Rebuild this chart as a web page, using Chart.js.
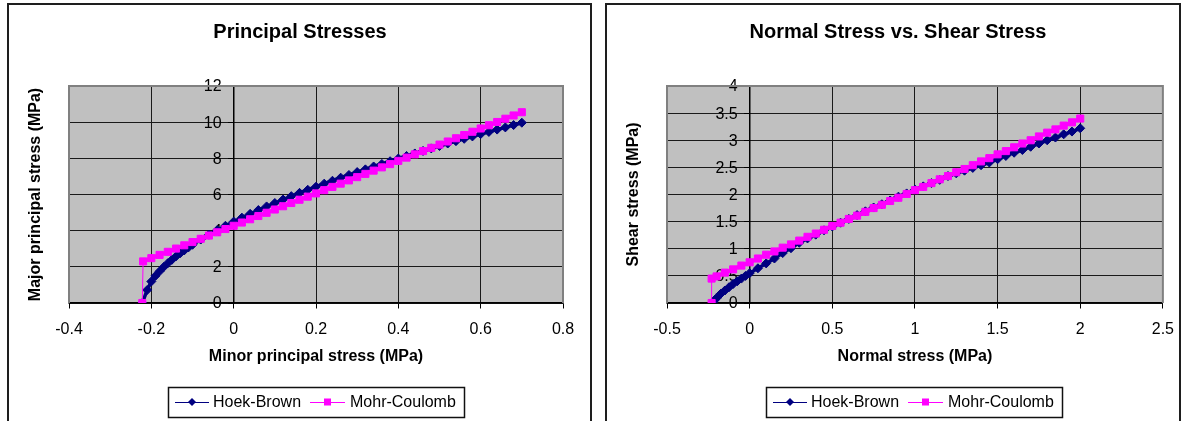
<!DOCTYPE html>
<html>
<head>
<meta charset="utf-8">
<script src="https://cdn.jsdelivr.net/npm/chart.js@4.4.1/dist/chart.umd.min.js"></script>
<style>
  html, body { margin: 0; padding: 0; background: #fff; width: 1186px; height: 421px; overflow: hidden; }
  .frame { position: absolute; top: 3px; height: 440px; border: 2px solid #1e1e1e; box-sizing: border-box; }
  .wrap { position: absolute; top: 0; height: 421px; }
</style>
</head>
<body>
<div class="frame" style="left:7px; width:585px;"></div>
<div class="frame" style="left:605px; width:576px;"></div>
<div class="wrap" style="left:0; width:598px;"><canvas id="principal" width="598" height="421"></canvas></div>
<div class="wrap" style="left:598px; width:588px;"><canvas id="mohr" width="588" height="421"></canvas></div>

<script>
// Principal stresses (MPa)
const hbMinor = [-0.222, -0.21, -0.20, -0.19, -0.18, -0.17, -0.16, -0.15, -0.14, -0.13, -0.12, -0.11, -0.10,
  -0.08, -0.06, -0.04, -0.02, 0, 0.02, 0.04, 0.06, 0.08, 0.10, 0.12, 0.14, 0.16, 0.18, 0.20, 0.22, 0.24,
  0.26, 0.28, 0.30, 0.32, 0.34, 0.36, 0.38, 0.40, 0.42, 0.44, 0.46, 0.48, 0.50, 0.52, 0.54, 0.56, 0.58,
  0.60, 0.62, 0.64, 0.66, 0.68, 0.70];
const hbMajor = [0, 0.72, 1.19, 1.50, 1.75, 1.99, 2.20, 2.39, 2.58, 2.75, 2.91, 3.07, 3.22,
  3.51, 3.78, 4.03, 4.27, 4.50, 4.72, 4.93, 5.14, 5.34, 5.53, 5.72, 5.91, 6.09, 6.26, 6.43, 6.60, 6.76,
  6.93, 7.08, 7.24, 7.39, 7.55, 7.69, 7.84, 7.99, 8.13, 8.27, 8.41, 8.55, 8.68, 8.82, 8.95, 9.08, 9.21,
  9.34, 9.46, 9.59, 9.71, 9.84, 9.97];
const mcMinor = [-0.222, -0.22, -0.20, -0.18, -0.16, -0.14, -0.12, -0.10, -0.08, -0.06, -0.04, -0.02, 0,
  0.02, 0.04, 0.06, 0.08, 0.10, 0.12, 0.14, 0.16, 0.18, 0.20, 0.22, 0.24, 0.26, 0.28, 0.30, 0.32, 0.34,
  0.36, 0.38, 0.40, 0.42, 0.44, 0.46, 0.48, 0.50, 0.52, 0.54, 0.56, 0.58, 0.60, 0.62, 0.64, 0.66, 0.68, 0.70];
const mcMajor = [0, 2.30, 2.48, 2.66, 2.83, 3.01, 3.19, 3.37, 3.55, 3.73, 3.91, 4.09, 4.27,
  4.45, 4.63, 4.81, 4.99, 5.17, 5.35, 5.53, 5.71, 5.88, 6.06, 6.24, 6.42, 6.60, 6.78, 6.96, 7.14, 7.32,
  7.50, 7.68, 7.86, 8.04, 8.22, 8.40, 8.58, 8.76, 8.93, 9.11, 9.29, 9.47, 9.65, 9.83, 10.01, 10.19, 10.37, 10.55];

// Normal vs shear stress (MPa)
const hbNormal = [-0.222, -0.21, -0.20, -0.175, -0.15, -0.125, -0.10, -0.075, -0.05, -0.025, 0,
  0.05, 0.10, 0.15, 0.20, 0.25, 0.30, 0.35, 0.40, 0.45, 0.50, 0.55, 0.60, 0.65, 0.70, 0.75, 0.80,
  0.85, 0.90, 0.95, 1.00, 1.05, 1.10, 1.15, 1.20, 1.25, 1.30, 1.35, 1.40, 1.45, 1.50, 1.55, 1.60,
  1.65, 1.70, 1.75, 1.80, 1.85, 1.90, 1.95, 2.00];
const hbShear = [0, 0.06, 0.09, 0.17, 0.23, 0.29, 0.35, 0.40, 0.45, 0.50, 0.55,
  0.64, 0.73, 0.82, 0.92, 1.01, 1.11, 1.19, 1.26, 1.34, 1.41, 1.48, 1.55, 1.62, 1.69, 1.76, 1.82,
  1.89, 1.96, 2.02, 2.09, 2.15, 2.21, 2.27, 2.34, 2.39, 2.44, 2.49, 2.54, 2.59, 2.65, 2.71, 2.77,
  2.82, 2.88, 2.94, 3.00, 3.05, 3.11, 3.16, 3.22];
const mcNormal = [-0.23, -0.23, -0.20, -0.15, -0.10, -0.05, 0,
  0.05, 0.10, 0.15, 0.20, 0.25, 0.30, 0.35, 0.40, 0.45, 0.50, 0.55, 0.60, 0.65, 0.70, 0.75, 0.80,
  0.85, 0.90, 0.95, 1.00, 1.05, 1.10, 1.15, 1.20, 1.25, 1.30, 1.35, 1.40, 1.45, 1.50, 1.55, 1.60,
  1.65, 1.70, 1.75, 1.80, 1.85, 1.90, 1.95, 2.00];
const mcShear = [0, 0.45, 0.49, 0.56, 0.62, 0.69, 0.75,
  0.82, 0.89, 0.95, 1.02, 1.08, 1.15, 1.22, 1.28, 1.35, 1.42, 1.48, 1.55, 1.61, 1.68, 1.75, 1.81,
  1.88, 1.94, 2.01, 2.08, 2.14, 2.21, 2.28, 2.34, 2.41, 2.47, 2.54, 2.61, 2.67, 2.74, 2.80, 2.87,
  2.94, 3.00, 3.07, 3.14, 3.20, 3.27, 3.33, 3.40];

const seriesNames = ["Hoek-Brown", "Mohr-Coulomb"];
const FONT = '"Liberation Sans", Arial, sans-serif';
const NAVY = "#000080";
const MAGENTA = "#FF00FF";

Chart.defaults.font.family = FONT;
Chart.defaults.color = "#000";

function pts(xs, ys) {
  return xs.map((x, i) => ({ x: x, y: ys[i] }));
}

function fmt(v) {
  return String(Math.round(v * 100) / 100);
}

// Excel-like frame: grey plot background, title, axis titles and boxed legend
const excelLook = {
  id: "excelLook",
  beforeDraw(chart) {
    const { ctx, chartArea: a } = chart;
    ctx.save();
    ctx.fillStyle = "#C0C0C0";
    ctx.fillRect(a.left, a.top, a.right - a.left, a.bottom - a.top);
    ctx.restore();
  },
  beforeDatasetsDraw(chart) {
    // y tick labels sit just left of the axis at x = 0 (under the data)
    const { ctx } = chart;
    const ys = chart.scales.y;
    const axisX = chart.scales.x.getPixelForValue(0);
    ctx.save();
    ctx.fillStyle = "#000";
    ctx.font = "16px " + FONT;
    ctx.textAlign = "right";
    ctx.textBaseline = "middle";
    ys.ticks.forEach((t, i) => {
      ctx.fillText(fmt(t.value), axisX - 12, ys.getPixelForTick(i) + 1);
    });
    ctx.restore();
  },
  afterDraw(chart) {
    const { ctx, chartArea: a } = chart;
    const o = chart.options.plugins.excelLook;
    ctx.save();
    // grey plot border (top, left, right)
    ctx.strokeStyle = "#808080";
    ctx.lineWidth = 2;
    ctx.beginPath();
    ctx.moveTo(a.left, a.bottom);
    ctx.lineTo(a.left, a.top);
    ctx.lineTo(a.right, a.top);
    ctx.lineTo(a.right, a.bottom);
    ctx.stroke();

    ctx.fillStyle = "#000";
    ctx.textAlign = "center";
    ctx.textBaseline = "middle";
    ctx.font = "bold 20px " + FONT;
    ctx.fillText(o.title, 300, 32);

    ctx.font = "bold 16px " + FONT;
    ctx.fillText(o.xTitle, (a.left + a.right) / 2, 357);
    ctx.save();
    ctx.translate(36, (a.top + a.bottom) / 2);
    ctx.rotate(-Math.PI / 2);
    ctx.fillText(o.yTitle, 0, 0);
    ctx.restore();

    // legend
    const lx = 168, ly = 387, lw = 296, lh = 30, cy = ly + lh / 2;
    ctx.strokeStyle = "#111";
    ctx.lineWidth = 1.5;
    ctx.strokeRect(lx + 0.5, ly + 0.5, lw, lh);
    ctx.lineWidth = 1;
    ctx.strokeStyle = NAVY;
    ctx.beginPath();
    ctx.moveTo(lx + 7, cy + 0.5);
    ctx.lineTo(lx + 41, cy + 0.5);
    ctx.stroke();
    ctx.fillStyle = NAVY;
    ctx.beginPath();
    ctx.moveTo(lx + 24, cy - 4);
    ctx.lineTo(lx + 28, cy);
    ctx.lineTo(lx + 24, cy + 4);
    ctx.lineTo(lx + 20, cy);
    ctx.closePath();
    ctx.fill();
    ctx.strokeStyle = MAGENTA;
    ctx.beginPath();
    ctx.moveTo(lx + 142, cy + 0.5);
    ctx.lineTo(lx + 177, cy + 0.5);
    ctx.stroke();
    ctx.fillStyle = MAGENTA;
    ctx.fillRect(lx + 156, cy - 3.5, 7, 7);

    ctx.fillStyle = "#000";
    ctx.textAlign = "left";
    ctx.font = "16px " + FONT;
    ctx.fillText(seriesNames[0], lx + 45, cy + 1);
    ctx.fillText(seriesNames[1], lx + 182, cy + 1);
    ctx.restore();
  }
};

function makeChart(canvasId, hb, mc, xr, yr, titles, pad) {
  const ctx = document.getElementById(canvasId).getContext("2d");
  return new Chart(ctx, {
    type: "scatter",
    data: {
      datasets: [
        {
          label: seriesNames[0],
          data: hb,
          showLine: true,
          borderColor: NAVY,
          backgroundColor: NAVY,
          borderWidth: 3.5,
          pointStyle: "rectRot",
          pointRadius: 4.5,
          pointBorderWidth: 1,
          order: 1
        },
        {
          label: seriesNames[1],
          data: mc,
          showLine: true,
          borderColor: MAGENTA,
          backgroundColor: MAGENTA,
          borderWidth: 4,
          // the tension cut-off drop is a thin line
          segment: { borderWidth: c => (c.p0DataIndex === 0 ? 1 : 4) },
          pointStyle: "rect",
          pointRadius: 5,
          pointBorderWidth: 1,
          order: 0
        }
      ]
    },
    options: {
      responsive: false,
      animation: false,
      events: [],
      layout: { padding: pad },
      scales: {
        x: {
          type: "linear",
          position: { y: 0 },
          min: xr[0], max: xr[1],
          ticks: { stepSize: xr[2], padding: 12, font: { size: 16 }, callback: fmt },
          grid: { color: "#1a1a1a", lineWidth: 1, tickLength: 5, tickColor: "#000" },
          border: { color: "#000", width: 1.5 }
        },
        y: {
          type: "linear",
          position: { x: 0 },
          min: yr[0], max: yr[1],
          ticks: { stepSize: yr[2], display: false },
          grid: { color: "#1a1a1a", lineWidth: 1, tickLength: 5, tickColor: "#000" },
          border: { color: "#000", width: 1.5 }
        }
      },
      plugins: {
        legend: { display: false },
        tooltip: { enabled: false },
        excelLook: titles
      }
    },
    plugins: [excelLook]
  });
}

makeChart("principal", pts(hbMinor, hbMajor), pts(mcMinor, mcMajor),
  [-0.4, 0.8, 0.2], [0, 12, 2],
  { title: "Principal Stresses", xTitle: "Minor principal stress (MPa)", yTitle: "Major principal stress (MPa)" },
  { left: 69, right: 35, top: 86, bottom: 118 });

makeChart("mohr", pts(hbNormal, hbShear), pts(mcNormal, mcShear),
  [-0.5, 2.5, 0.5], [0, 4, 0.5],
  { title: "Normal Stress vs. Shear Stress", xTitle: "Normal stress (MPa)", yTitle: "Shear stress (MPa)" },
  { left: 69, right: 23, top: 86, bottom: 118 });
</script>
</body>
</html>
